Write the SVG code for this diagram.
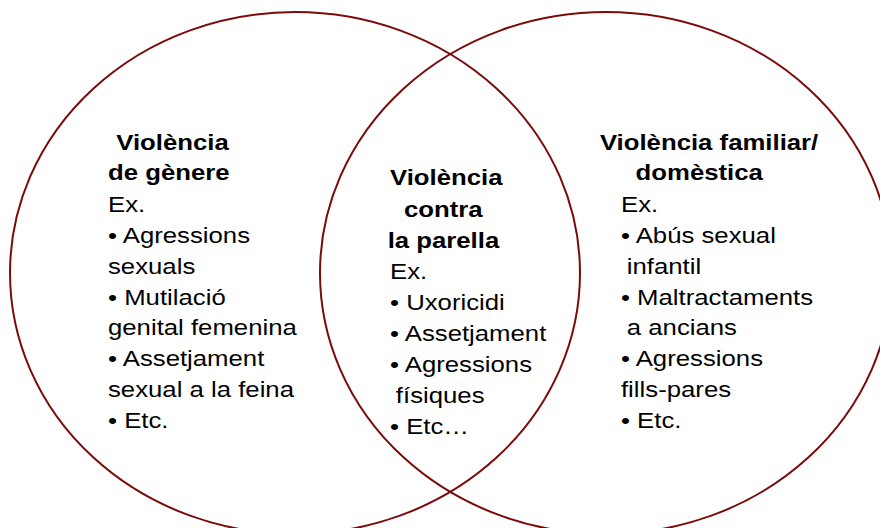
<svg xmlns="http://www.w3.org/2000/svg" width="880" height="528" viewBox="0 0 880 528">
<style>
.c{fill:none;stroke:#7b0a0a;stroke-width:2}
text{font-family:"Liberation Sans",Arial,sans-serif;font-size:22px;fill:#000}
.b{font-weight:bold}
</style>
<rect width="880" height="528" fill="#fff"/>
<g id="left-set"><ellipse class="c" cx="295" cy="273" rx="285" ry="261"/></g>
<g id="right-set"><ellipse class="c" cx="606" cy="273" rx="286" ry="261"/></g>
<g id="left-text" transform="matrix(1.17,0,0,1,-18.36,0)">
<text class="b" x="115" y="150">Violència</text>
<text class="b" x="108" y="180">de gènere</text>
<text x="108" y="212">Ex.</text>
<text x="108" y="243">• Agressions</text>
<text x="108" y="274">sexuals</text>
<text x="108" y="305">• Mutilació</text>
<text x="108" y="335">genital femenina</text>
<text x="108" y="366">• Assetjament</text>
<text x="108" y="397">sexual a la feina</text>
<text x="108" y="428">• Etc.</text>
</g>
<g id="middle-text" transform="matrix(1.17,0,0,1,-66.3,0)">
<text class="b" x="390" y="185">Violència</text>
<text class="b" x="402" y="217">contra</text>
<text class="b" x="388" y="248">la parella</text>
<text x="390" y="279">Ex.</text>
<text x="390" y="310">• Uxoricidi</text>
<text x="390" y="341">• Assetjament</text>
<text x="390" y="372">• Agressions</text>
<text x="395" y="403">físiques</text>
<text x="390" y="434">• Etc…</text>
</g>
<g id="right-text" transform="matrix(1.17,0,0,1,-105.6,0)">
<text class="b" x="603" y="150">Violència familiar/</text>
<text class="b" x="633.5" y="180">domèstica</text>
<text x="621" y="212">Ex.</text>
<text x="621" y="243">• Abús sexual</text>
<text x="626" y="274">infantil</text>
<text x="621" y="305">• Maltractaments</text>
<text x="626" y="335">a ancians</text>
<text x="621" y="366">• Agressions</text>
<text x="621" y="397">fills-pares</text>
<text x="621" y="428">• Etc.</text>
</g>
</svg>
